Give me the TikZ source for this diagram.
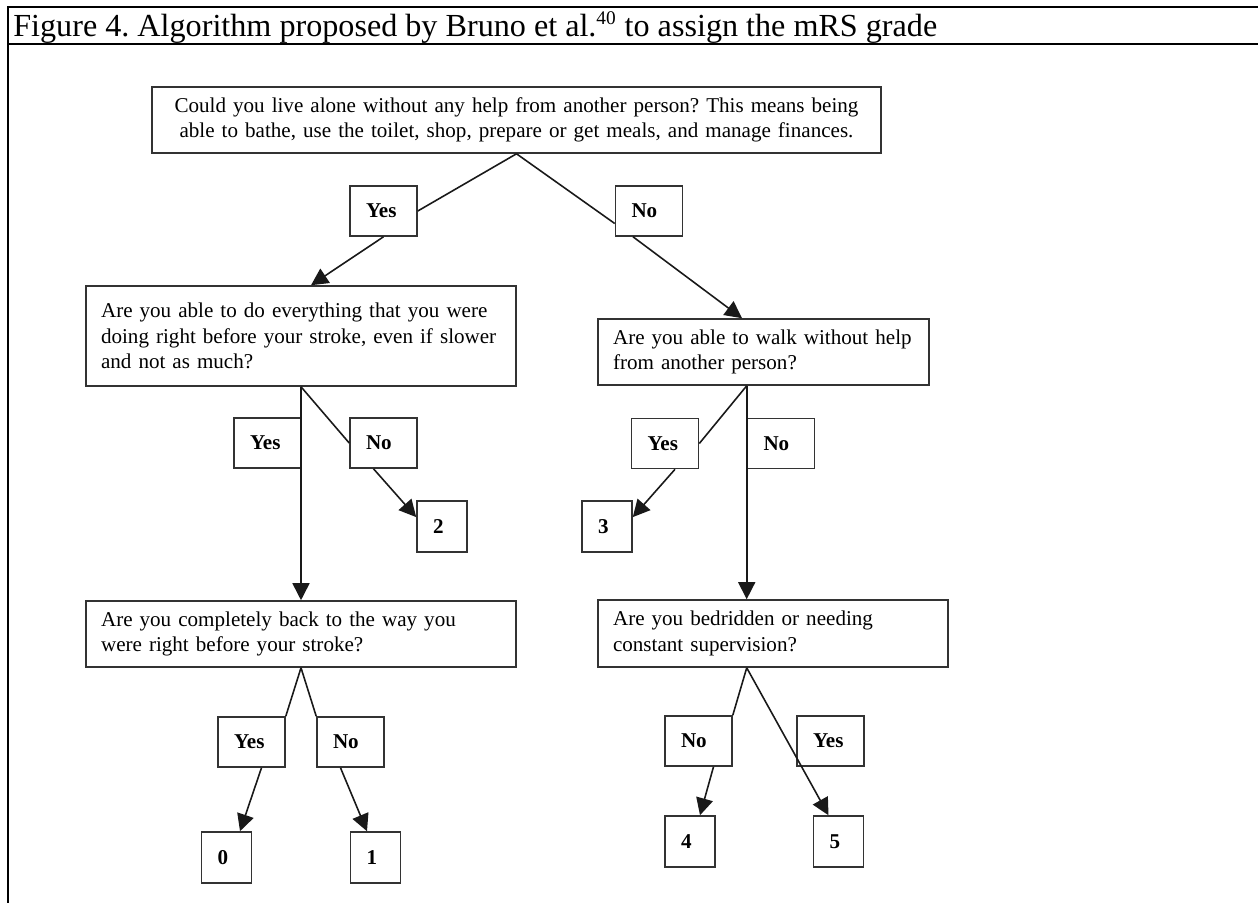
\documentclass[tikz,border=0pt]{standalone}
\usepackage{fontspec}
\setmainfont{Liberation Serif}
\usetikzlibrary{arrows.meta}
\frenchspacing

\begin{document}
\begin{tikzpicture}[x=0.02cm, y=-0.02cm,
    question/.style={draw=black!80, line width=0.9pt, align=left, inner xsep=0.3cm, inner ysep=0pt, font=\fontsize{12}{14.5}\selectfont},
    answer/.style={draw=black!80, line width=0.9pt, align=left, text width=0.7cm, inner xsep=0.32cm, minimum height=1cm, inner ysep=0pt, font=\fontsize{12}{14}\selectfont\bfseries},
    grade/.style={draw=black!80, line width=0.9pt, align=left, text width=0.36cm, inner xsep=0.32cm, minimum height=1.02cm, inner ysep=0pt, font=\fontsize{12}{14}\selectfont\bfseries},
    branch/.style={line width=0.9pt, draw=black!90},
    flow/.style={branch, -{Triangle[length=0.34cm, width=0.34cm]}}]

    % Fix the page to the size of the figure
    \useasboundingbox (0,0) rectangle (1258,903);

    % Frame and caption row
    \draw[line width=1.4pt] (1258,7) -- (8,7) -- (8,903);
    \draw[line width=1.4pt] (8,44) -- (1258,44);
    \node[anchor=base west, inner sep=0pt, font=\fontsize{18.3}{20}\selectfont] (title) at (13,36)
      {Figure 4. Algorithm proposed by Bruno et al.\textsuperscript{\fontsize{11}{12}\selectfont 40} to assign the mRS grade};

    % Questions
    \node[question, align=center, text width=13.98cm, minimum height=1.32cm] (q1) at (516.5,120)
      {Could you live alone without any help from another person? This means being\\
       able to bathe, use the toilet, shop, prepare or get meals, and manage finances.};
    \node[question, text width=8cm, minimum height=2cm] (q2) at (301,336)
      {Are you able to do everything that you were\\
       doing right before your stroke, even if slower\\
       and not as much?};
    \node[question, text width=6.02cm, minimum height=1.32cm] (q3) at (763.5,352)
      {Are you able to walk without help\\
       from another person?};
    \node[question, text width=8cm, minimum height=1.32cm] (q4) at (301,634)
      {Are you completely back to the way you\\
       were right before your stroke?};
    \node[question, text width=6.4cm, minimum height=1.34cm] (q5) at (773,633.5)
      {Are you bedridden or needing\\
       constant supervision?};

    % Answers
    \node[answer] (yes1) at (383.5,211) {Yes};
    \node[answer] (no1) at (649,211) {No};
    \node[answer] (yes2) at (267.5,443) {Yes};
    \node[answer] (no2) at (383.5,443) {No};
    \node[answer] (yes3) at (665,443.5) {Yes};
    \node[answer] (no3) at (781,443.5) {No};
    \node[answer] (yes4) at (251.5,742) {Yes};
    \node[answer] (no4) at (350.5,742) {No};
    \node[answer] (no5) at (698.5,741) {No};
    \node[answer] (yes5) at (830.5,741) {Yes};

    % mRS grades
    \node[grade] (g0) at (226.5,857.5) {0};
    \node[grade] (g1) at (375.5,857.5) {1};
    \node[grade] (g2) at (442,526.5) {2};
    \node[grade] (g3) at (607,526.5) {3};
    \node[grade] (g4) at (690,841.5) {4};
    \node[grade] (g5) at (838.5,841.5) {5};

    % Branches of the first question
    \draw[branch] (q1.south) -- (yes1.east);
    \draw[branch] (q1.south) -- (no1.200);
    \draw[flow] (yes1.south) -- ([xshift=0.2cm]q2.north);
    \draw[flow] ([xshift=-0.32cm]no1.south) -- ([xshift=-0.43cm]q3.north);

    % Branches of the second question
    \draw[flow] (q2.south) -- (q2.south |- q4.north);
    \draw[branch] (q2.south) -- (no2.west);
    \draw[flow] ([xshift=-0.2cm]no2.south) -- (g2.160);

    % Branches of the third question
    \coordinate (s3) at (q3.south -| no3.west);
    \draw[flow] (s3) -- (s3 |- q5.north);
    \draw[branch] (s3) -- (yes3.east);
    \draw[flow] ([xshift=0.2cm]yes3.south) -- (g3.20);

    % Branches of the fourth question
    \draw[branch] (q4.south) -- (yes4.north east);
    \draw[branch] (q4.south) -- (no4.north west);
    \draw[flow] ([xshift=0.2cm]yes4.south) -- ([xshift=0.27cm]g0.north);
    \draw[flow] ([xshift=-0.2cm]no4.south) -- ([xshift=-0.17cm]g1.north);

    % Branches of the fifth question
    \coordinate (s5) at (q5.south -| no3.west);
    \draw[branch] (s5) -- (no5.north east);
    \draw[flow] ([xshift=0.3cm]no5.south) -- ([xshift=0.2cm]g4.north);
    \draw[flow] (s5) -- ([xshift=-0.2cm]g5.north);
  \end{tikzpicture}
\end{document}
